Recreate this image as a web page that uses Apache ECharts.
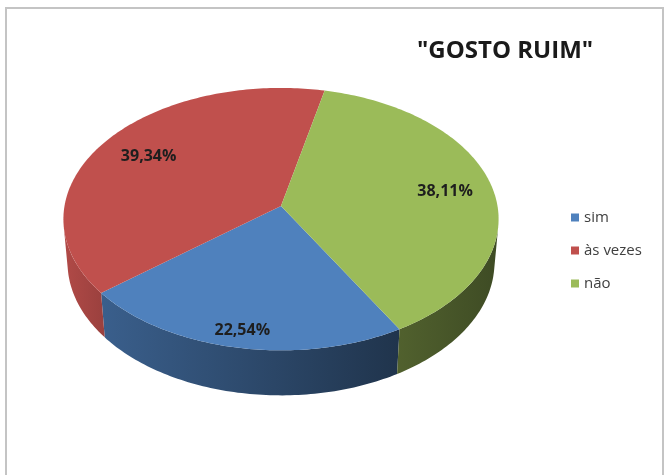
<!DOCTYPE html>
<html>
<head>
<meta charset="utf-8">
<script src="https://cdn.jsdelivr.net/npm/echarts@6.0.0/dist/echarts.min.js"></script>
<style>
  html, body { margin: 0; padding: 0; background: #ffffff; }
  #chart { width: 667px; height: 475px; }
</style>
</head>
<body>
<div id="chart"></div>
<script>
// Survey answers (percent of respondents)
const categories = ['sim', 'às vezes', 'não'];
const shares = [22.54, 39.34, 38.11];
const titleText = '"GOSTO RUIM"';

// Slice colours and side-wall shading (left / right brightness factor)
const sliceColors = ['#4f81bd', '#c0504d', '#9bbb59'];
const wallShade = [[0.74, 0.40], [0.92, 0.80], [0.52, 0.40]];

// Disc of unit radius viewed from above with a little perspective
const VIEW = {
  cx: 281, cy: 206,      // screen position of the disc centre
  scale: 1732,           // projection scale
  dist: 8,               // camera distance (disc radii)
  cosA: 0.8, sinA: 0.6,  // camera elevation
  depth: 0.255,          // disc thickness (disc radii)
  startDeg: 60           // angle where the first slice starts (clockwise from 3 o'clock)
};

function project(deg, rho, z) {
  const a = deg * Math.PI / 180;
  const X = rho * Math.cos(a);
  const Y = rho * Math.sin(a);
  const d = VIEW.dist - Y * VIEW.cosA - z * VIEW.sinA;
  return [
    VIEW.cx + VIEW.scale * X / d,
    VIEW.cy + VIEW.scale * (Y * VIEW.sinA - z * VIEW.cosA) / d
  ];
}

function arc(from, to, z) {
  const pts = [];
  const n = Math.max(2, Math.ceil(Math.abs(to - from)));
  for (let k = 0; k <= n; k++) {
    pts.push(project(from + (to - from) * k / n, 1, z));
  }
  return pts;
}

function shade(hex, f) {
  const v = parseInt(hex.slice(1), 16);
  const r = Math.round(((v >> 16) & 255) * f);
  const g = Math.round(((v >> 8) & 255) * f);
  const b = Math.round((v & 255) * f);
  return 'rgb(' + r + ',' + g + ',' + b + ')';
}

const total = shares.reduce((s, v) => s + v, 0);
// rim part facing the camera
const silhouette = Math.asin(1 / (VIEW.dist * VIEW.cosA)) * 180 / Math.PI;

function formatShare(v) {
  return v.toFixed(2).replace('.', ',') + '%';
}

function renderSlice(i, value) {
  const before = shares.slice(0, i).reduce((s, v) => s + v, 0);
  const start = VIEW.startDeg + 360 * before / total;
  const end = start + 360 * value / total;
  const color = sliceColors[i];
  const children = [];

  // outer wall, only the front-facing part
  [0, 360].forEach(function (off) {
    const lo = Math.max(start, silhouette + off);
    const hi = Math.min(end, 180 - silhouette + off);
    if (hi > lo) {
      const pts = arc(lo, hi, 0).concat(arc(hi, lo, -VIEW.depth));
      children.push({
        type: 'polygon',
        z2: 1,
        shape: { points: pts },
        style: {
          fill: new echarts.graphic.LinearGradient(0, 0, 1, 0, [
            { offset: 0, color: shade(color, wallShade[i][0]) },
            { offset: 1, color: shade(color, wallShade[i][1]) }
          ])
        }
      });
    }
  });

  // top face
  children.push({
    type: 'polygon',
    z2: 2,
    shape: { points: [[VIEW.cx, VIEW.cy]].concat(arc(start, end, 0)) },
    style: { fill: color }
  });

  // value label, kept inside the rim
  const mid = (start + end) / 2;
  const edge = project(mid, 1, 0);
  let ux = edge[0] - VIEW.cx, uy = edge[1] - VIEW.cy;
  const len = Math.sqrt(ux * ux + uy * uy);
  ux /= len; uy /= len;
  const inset = 44 * Math.abs(ux) + 2 * Math.abs(uy) + 3;
  children.push({
    type: 'text',
    z2: 3,
    x: edge[0] - ux * inset,
    y: edge[1] - uy * inset,
    style: {
      text: formatShare(value),
      fill: '#1e1e1e',
      font: 'bold 16px "Open Sans", sans-serif',
      align: 'center',
      verticalAlign: 'middle'
    }
  });

  return { type: 'group', children: children };
}

const chart = echarts.init(document.getElementById('chart'), null, { renderer: 'canvas' });

chart.setOption({
  animation: false,
  backgroundColor: '#ffffff',
  title: {
    text: titleText,
    left: 412,
    top: 34,
    textStyle: {
      fontFamily: '"Open Sans", sans-serif',
      fontWeight: 'bold',
      fontSize: 24,
      color: '#1a1a1a'
    }
  },
  legend: {
    data: categories,
    orient: 'vertical',
    left: 566,
    top: 205,
    icon: 'rect',
    itemWidth: 8,
    itemHeight: 8,
    itemGap: 18,
    selectedMode: false,
    textStyle: {
      fontFamily: '"Open Sans", sans-serif',
      fontSize: 15,
      color: '#404040'
    }
  },
  graphic: [{
    type: 'rect',
    shape: { x: 6, y: 8, width: 657, height: 500 },
    style: { fill: 'none', stroke: '#c4c4c4', lineWidth: 2 },
    silent: true
  }],
  series: categories.map(function (name, i) {
    return {
      type: 'custom',
      name: name,
      coordinateSystem: 'none',
      itemStyle: { color: sliceColors[i] },
      silent: true,
      data: [[shares[i]]],
      renderItem: function (params, api) {
        return renderSlice(i, api.value(0));
      }
    };
  })
});
</script>
</body>
</html>
